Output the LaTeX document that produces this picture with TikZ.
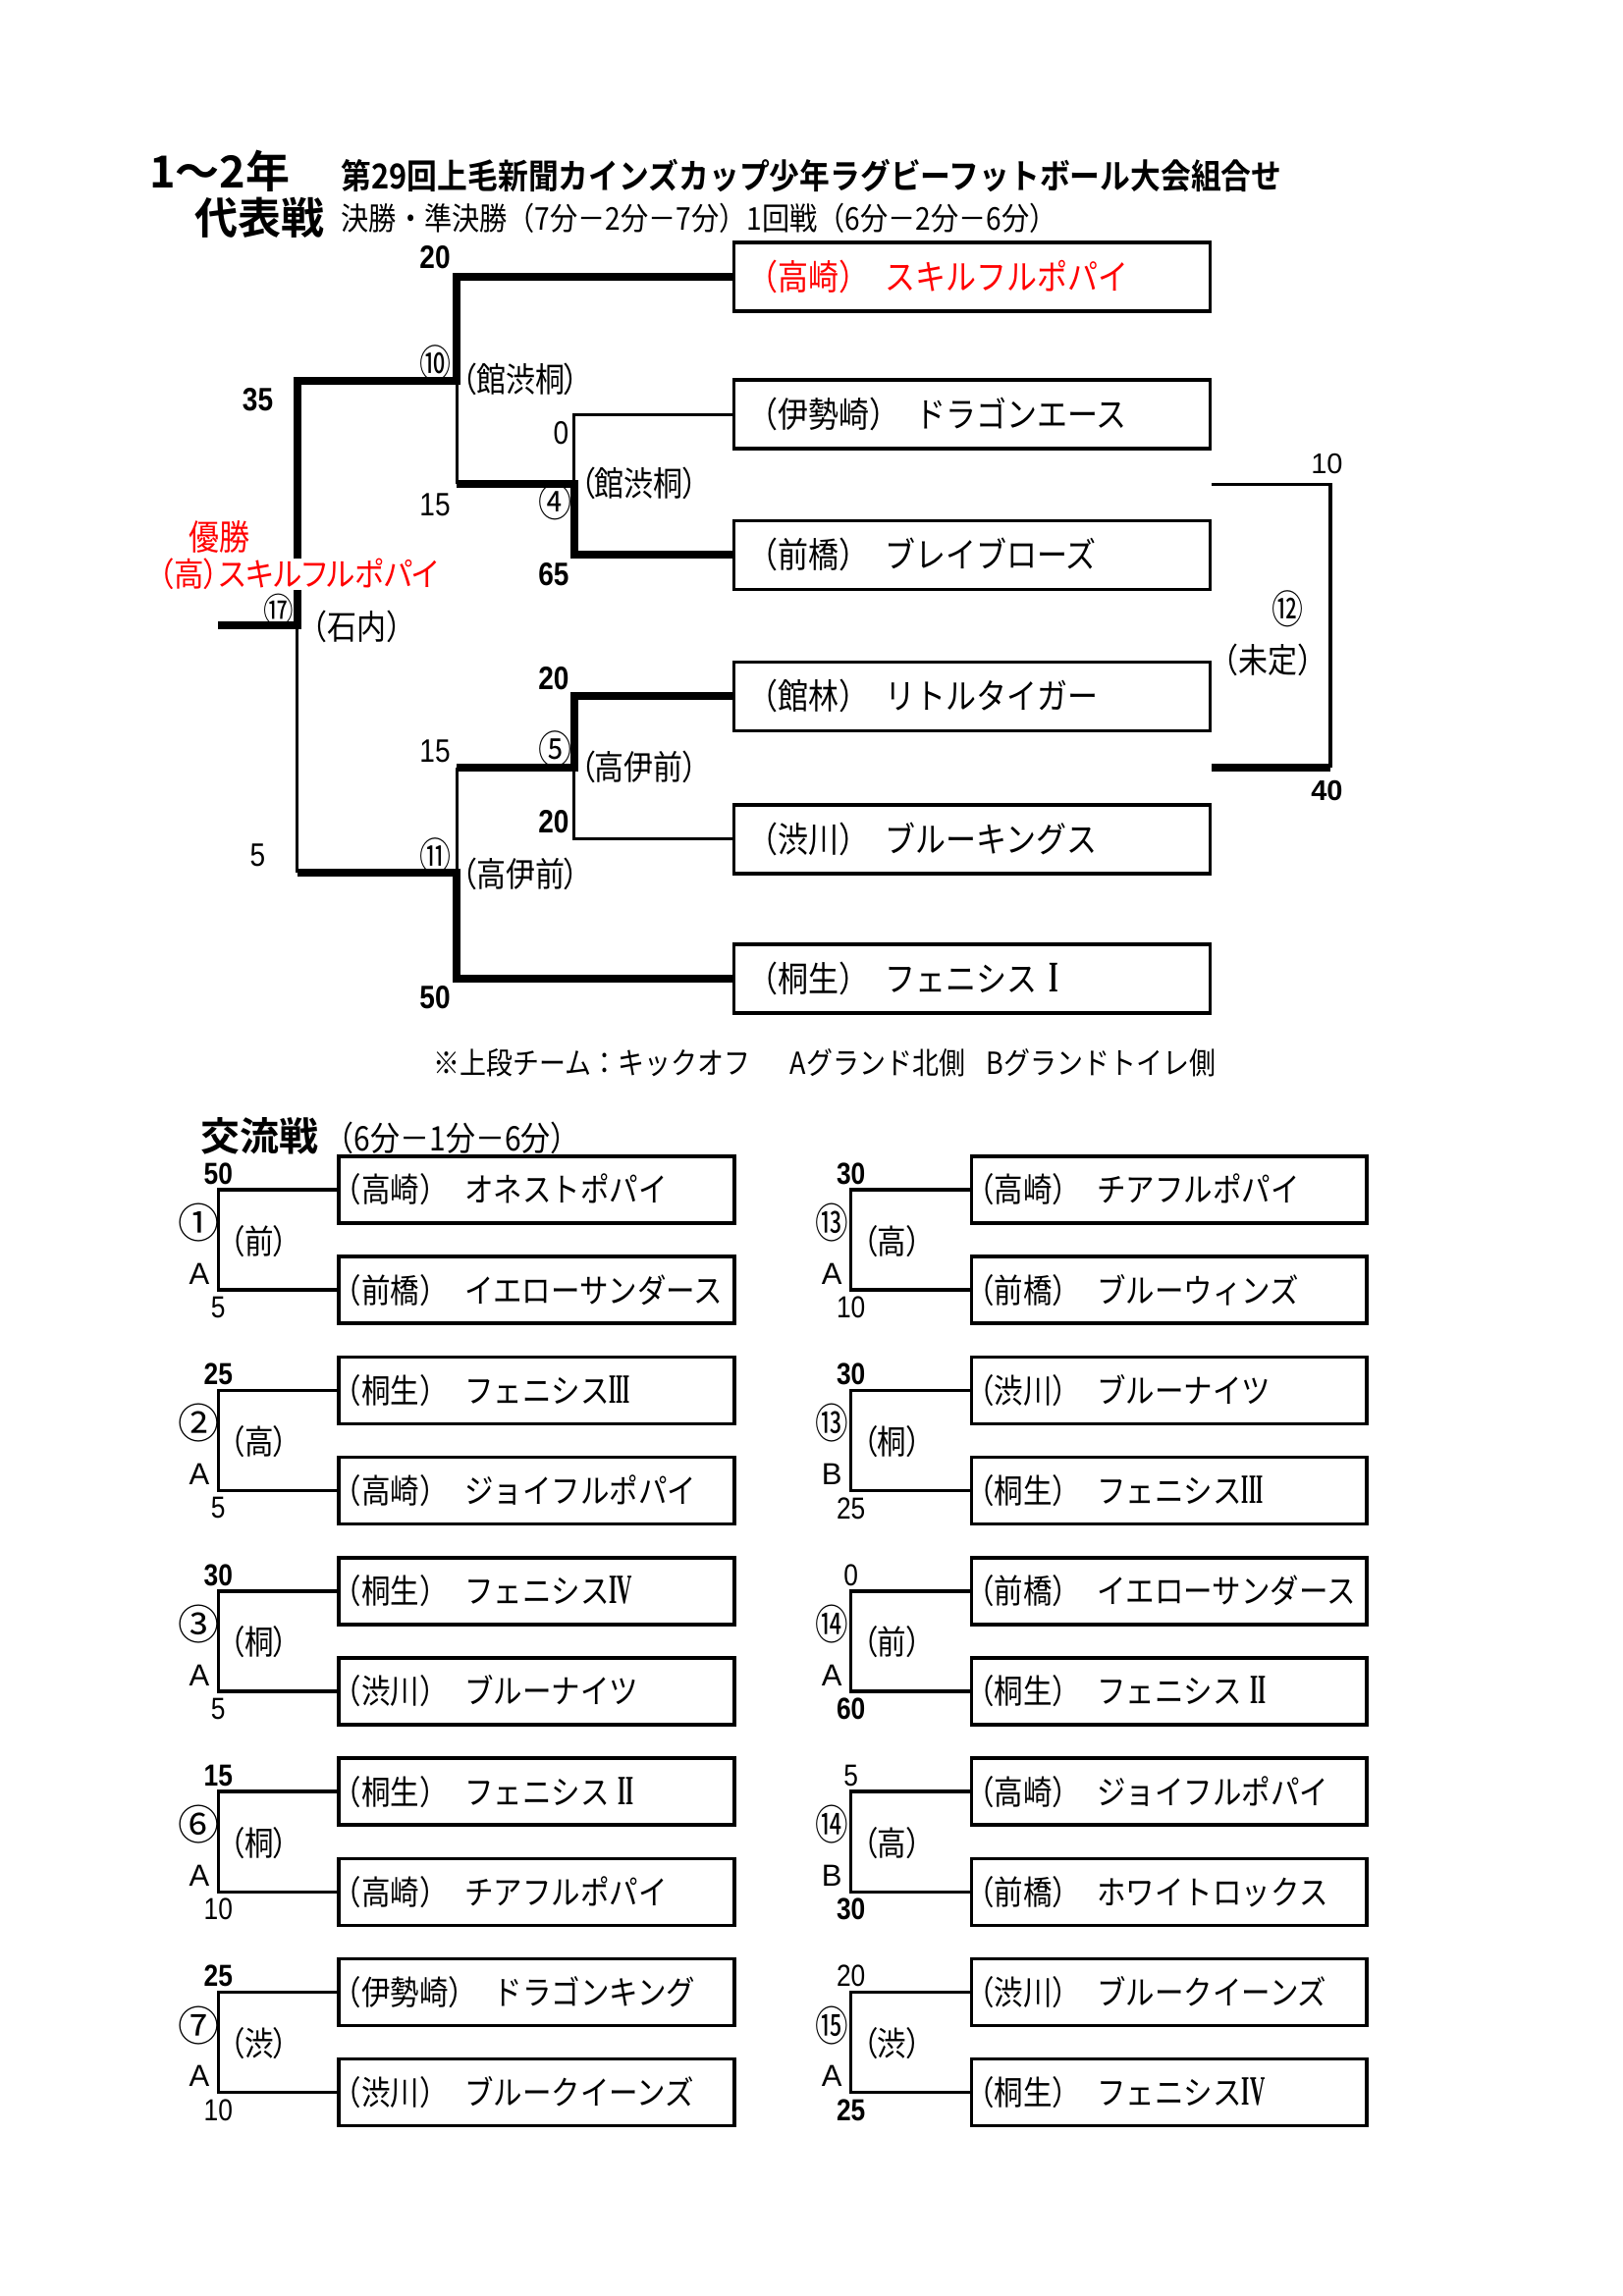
\documentclass[tikz,border=0pt]{standalone}
\usepackage{fontspec}
\setmainfont{Noto Sans CJK JP}[BoldFont={Noto Sans CJK JP Bold}]
\newfontfamily\jpp{Noto Sans CJK JP}[RawFeature=+palt]
\newfontfamily\ari{Liberation Sans}
\newfontfamily\tms{Liberation Serif}
\usetikzlibrary{calc}
\definecolor{jred}{RGB}{255,0,0}
\newcommand\fs[1]{\fontsize{#1}{#1}\selectfont}
\newcommand\cnd[2][0.85]{\scalebox{#1}[1]{#2}}
\newcommand\scB[1]{{\ari\bfseries\cnd{#1}}}
\newcommand\scR[1]{{\ari\cnd{#1}}}
\newcommand\gp{\hspace{0.55em}}
\newcommand\tall[1]{\scalebox{1}[1.15]{#1}}
\newcommand\rmn[2][0.7]{{\tms\bfseries\scalebox{#1}[1.25]{#2}}}
\begin{document}
\begin{tikzpicture}[x=1.4919pt,y=-1.4919pt,
  topbox/.style={draw,line width=3.5pt,anchor=west,minimum height=70pt,text width=485pt,inner xsep=0pt,inner ysep=0pt,align=left,font=\fs{31}},
  lowbox/.style={draw,line width=3.5pt,anchor=west,minimum height=68pt,text width=403pt,inner xsep=0pt,inner ysep=0pt,align=left,font=\fs{29.5}},
  lbl/.style={inner sep=0pt},
  thk/.style={line width=8pt},
  thn/.style={line width=3.3pt},
  br/.style={line width=3.5pt}]
\fill[white] (0,0) rectangle (1108,1568);
\useasboundingbox (0,0) rectangle (1108,1568);

% titles
\node[lbl,font=\bfseries\fs{45}] (ttl1) at (150,117) {1〜2年};
\node[lbl,font=\bfseries\fs{44}] (ttl2) at (177,149) {代表戦};
\node[lbl,anchor=west,font=\bfseries\fs{35}] (ttl3) at (233,120) {\cnd[0.88]{第29回上毛新聞カインズカップ少年ラグビーフットボール大会組合せ}};
\node[lbl,anchor=west,font=\fs{32}] (ttl4) at (233,149) {\cnd[0.88]{決勝・準決勝（7分－2分－7分）1回戦（6分－2分－6分）}};

% top boxes
\node[topbox,text=jred] (t1) at (500,189) {\tall{\hspace*{14pt}（高崎）\hspace{0.5em}スキルフルポパイ}};
\node[topbox] (t2) at (500,283) {\tall{\hspace*{14pt}（伊勢崎）\hspace{0.5em}ドラゴンエース}};
\node[topbox] (t3) at (500,379) {\tall{\hspace*{14pt}（前橋）\hspace{0.5em}ブレイブローズ}};
\node[topbox] (t4) at (500,475.5) {\tall{\hspace*{14pt}（館林）\hspace{0.5em}リトルタイガー}};
\node[topbox] (t5) at (500,573) {\tall{\hspace*{14pt}（渋川）\hspace{0.5em}ブルーキングス}};
\node[topbox] (t6) at (500,668.5) {\tall{\hspace*{14pt}（桐生）\hspace{0.5em}フェニシス\hspace{0.4em}\rmn[0.8]{I}}};

% bracket junctions
\coordinate (j4) at (392,330.5);
\coordinate (j5) at (392,524);
\coordinate (j10) at (312,260);
\coordinate (j11) at (312,596);
\coordinate (j17) at (203,427);
\coordinate (fin) at (149,427);

\draw[thk] (t1.west) -| (j10) -| (j17) -- (fin);
\draw[thn] (t2.west) -| (j4);
\draw[thk] (t3.west) -| (j4) -- (j4 -| j10);
\draw[thn] (j4 -| j10) -- (j10);
\draw[thk] (t4.west) -| (j5) -- (j5 -| j11);
\draw[thn] (t5.west) -| (j5);
\draw[thn] (j5 -| j11) -- (j11);
\draw[thk] (t6.west) -| (j11) -- (j11 -| j17);
\draw[thn] (j11 -| j17) -- (j17);

\coordinate (r1) at ($(t2.south east)!0.5!(t3.north east)$);
\coordinate (r2) at ($(t4.south east)!0.5!(t5.north east)$);
\coordinate (r12) at ($(r1)+(81,0)$);
\draw[thn] (r1) -- (r12) -- (r12 |- r2);
\draw[thk] (r2) -- (r12 |- r2);

% top labels
\node[lbl,font=\fs{33}] (s20a) at (297,176) {\scB{20}};
\node[lbl,font=\fs{40}] (c10) at (297,248) {\cnd[0.8]{⑩}};
\node[lbl,anchor=west,font=\jpp\fs{30}] (l10) at (315,259) {\tall{（館渋桐）}};
\node[lbl,font=\fs{33}] (s35) at (176,273) {\scB{35}};
\node[lbl,font=\fs{33}] (s0) at (383,296) {\scR{0}};
\node[lbl,font=\fs{33}] (s15a) at (297,345) {\scR{15}};
\node[lbl,font=\fs{40}] (c4) at (379,343) {\cnd[0.85]{④}};
\node[lbl,anchor=west,font=\jpp\fs{30}] (l4) at (396,330) {\tall{（館渋桐）}};
\node[lbl,font=\fs{33}] (s65) at (378,392) {\scB{65}};
\node[lbl,font=\fs{31},text=jred] (win) at (150,367) {\tall{優勝}};
\node[fill=white,inner xsep=1pt,inner ysep=0pt,font=\jpp\fs{30.5},text=jred] (champ) at (204,392) {\scalebox{1}[1.1]{（高）スキルフルポパイ}};
\node[lbl,font=\fs{36}] (c17) at (190,417) {\cnd[0.85]{⑰}};
\node[lbl,font=\fs{30}] (l17) at (244,428) {\tall{（石内）}};
\node[lbl,font=\fs{33}] (s20b) at (378,463) {\scB{20}};
\node[lbl,font=\fs{33}] (s15b) at (297,513) {\scR{15}};
\node[lbl,font=\fs{40}] (c5) at (379,512) {\cnd[0.85]{⑤}};
\node[lbl,anchor=west,font=\jpp\fs{30}] (l5) at (396,524) {\tall{（高伊前）}};
\node[lbl,font=\fs{33}] (s20c) at (378,561) {\scB{20}};
\node[lbl,font=\fs{33}] (s5) at (176,584) {\scR{5}};
\node[lbl,font=\fs{40}] (c11) at (297,585) {\cnd[0.8]{⑪}};
\node[lbl,anchor=west,font=\jpp\fs{30}] (l11) at (315,597) {\tall{（高伊前）}};
\node[lbl,font=\fs{33}] (s50) at (297,681) {\scB{50}};
\node[lbl,font=\fs{29}] (s10) at (906,317) {{\ari 10}};
\node[lbl,font=\fs{40}] (c12) at (879,416) {\cnd[0.8]{⑫}};
\node[lbl,font=\fs{30}] (l12) at (866,451) {\tall{（未定）}};
\node[lbl,font=\fs{29}] (s40) at (906,540) {{\ari\bfseries 40}};

% note
\node[lbl,font=\fs{31}] (note) at (563,726) {\cnd[0.87]{※上段チーム：キックオフ\hspace{1.5em}Aグランド北側\hspace{0.8em}Bグランドトイレ側}};

% exchange games
\node[lbl,font=\bfseries\fs{40}] (kr) at (177,776) {交流戦};
\node[lbl,font=\fs{30}] (kr2) at (309,777) {\tall{（6分－1分－6分）}};

\foreach \bx/\y/\nm/\ci/\le/\ab/\sa/\sb/\ta/\tb in {
  230/812.5/p1/①/A/（前）/\scB{50}/\scR{5}/{（高崎）\gp オネストポパイ}/{（前橋）\gp イエローサンダース},
  230/949.5/p2/②/A/（高）/\scB{25}/\scR{5}/{（桐生）\gp フェニシス\rmn[0.62]{III}}/{（高崎）\gp ジョイフルポパイ},
  230/1086.5/p3/③/A/（桐）/\scB{30}/\scR{5}/{（桐生）\gp フェニシス\rmn[0.72]{IV}}/{（渋川）\gp ブルーナイツ},
  230/1223.5/p4/⑥/A/（桐）/\scB{15}/\scR{10}/{（桐生）\gp フェニシス\hspace{0.3em}\rmn[0.7]{II}}/{（高崎）\gp チアフルポパイ},
  230/1360.5/p5/⑦/A/（渋）/\scB{25}/\scR{10}/{（伊勢崎）\gp ドラゴンキング}/{（渋川）\gp ブルークイーンズ},
  662/812.5/q1/\cnd[0.8]{⑬}/A/（高）/\scB{30}/\scR{10}/{（高崎）\gp チアフルポパイ}/{（前橋）\gp ブルーウィンズ},
  662/949.5/q2/\cnd[0.8]{⑬}/B/（桐）/\scB{30}/\scR{25}/{（渋川）\gp ブルーナイツ}/{（桐生）\gp フェニシス\rmn[0.62]{III}},
  662/1086.5/q3/\cnd[0.8]{⑭}/A/（前）/\scR{0}/\scB{60}/{（前橋）\gp イエローサンダース}/{（桐生）\gp フェニシス\hspace{0.3em}\rmn[0.7]{II}},
  662/1223.5/q4/\cnd[0.8]{⑭}/B/（高）/\scR{5}/\scB{30}/{（高崎）\gp ジョイフルポパイ}/{（前橋）\gp ホワイトロックス},
  662/1360.5/q5/\cnd[0.8]{⑮}/A/（渋）/\scR{20}/\scB{25}/{（渋川）\gp ブルークイーンズ}/{（桐生）\gp フェニシス\rmn[0.72]{IV}}}
{
  \node[lowbox] (\nm-a) at (\bx,\y) {\tall{\hspace*{-6pt}\ta}};
  \node[lowbox] (\nm-b) at (\bx,\y+68.5) {\tall{\hspace*{-6pt}\tb}};
  \draw[br] (\nm-a.west) -- ++(-81,0) coordinate (\nm-j) |- (\nm-b.west);
  \node[lbl,font=\fs{31}] (\nm-sa) at (\bx-81,\y-11) {\sa};
  \node[lbl,font=\fs{31}] (\nm-sb) at (\bx-81,\y+80.5) {\sb};
  \node[lbl,font=\fs{42}] (\nm-c) at (\bx-94,\y+22.5) {\ci};
  \node[lbl,font=\ari\fs{31}] (\nm-l) at (\bx-94,\y+57.5) {\le};
  \node[lbl,font=\jpp\fs{29.5}] (\nm-ab) at (\bx-53,\y+35) {\tall{\ab}};
}
\end{tikzpicture}
\end{document}
